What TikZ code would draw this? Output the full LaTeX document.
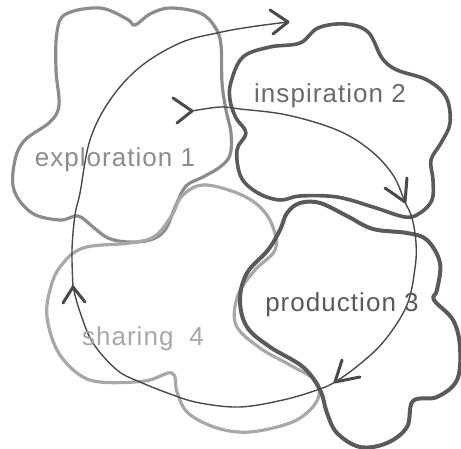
\documentclass[tikz,border=0pt]{standalone}
\usepackage{fontspec}
\newfontfamily\hand[LetterSpace=4]{Liberation Sans}
\definecolor{cloudA}{HTML}{8C8C8C}
\definecolor{cloudB}{HTML}{5A5A5A}
\definecolor{cloudC}{HTML}{A8A8A8}
\definecolor{arrowc}{HTML}{4A4A4A}
\begin{document}
\begin{tikzpicture}[x=1pt,y=-1pt,
  cloud/.style={line width=3.2pt,line join=round},
  flow/.style={draw=arrowc,line width=1.4pt,line cap=round},
  chev/.style={draw=arrowc,line width=3pt,line cap=round,line join=round},
  lbl/.style={font=\hand\fontsize{26}{30}\selectfont,inner sep=0pt}]
\useasboundingbox[fill=white] (0,0) rectangle (461,449);
% clouds
\draw[cloud,cloudA] plot[smooth cycle,tension=0.6] coordinates {(57,32) (66,14) (100,8) (127,19) (135,25) (150,14) (170,8) (200,13) (215,27) (221,45) (222,83) (226,110) (231,133) (230,155) (220,167) (203,177) (186,186) (176,205) (165,230) (150,240) (128,242) (108,238) (93,227) (78,216) (60,220) (32,213) (14,190) (15,160) (25,140) (50,122) (59,105) (56,70)};
\draw[cloud,cloudC] plot[smooth cycle,tension=0.6] coordinates {(50,290) (60,267) (83,248) (130,243) (155,236) (172,215) (182,196) (203,185) (237,193) (260,207) (273,227) (275,250) (255,270) (238,295) (236,325) (260,348) (290,365) (315,380) (319,395) (310,410) (290,423) (250,432) (217,428) (188,413) (177,392) (172,373) (145,381) (100,382) (77,373) (57,350) (47,317)};
\draw[cloud,cloudB,line width=3.6pt] plot[smooth cycle,tension=0.6] coordinates {(231,82) (243,57) (270,47) (300,43) (318,28) (345,24) (368,32) (382,58) (397,70) (427,80) (446,97) (450,123) (441,143) (431,160) (433,180) (432,200) (420,213) (405,217) (373,207) (337,197) (300,196) (280,200) (258,193) (241,177) (237,150) (246,133) (236,118) (230,100)};
\draw[cloud,cloudB,line width=4pt] plot[smooth cycle,tension=0.6] coordinates {(287,213) (300,203) (320,203) (347,216) (373,229) (407,233) (427,240) (440,263) (437,290) (434,300) (453,320) (460,347) (457,380) (437,397) (413,401) (407,427) (387,443) (360,447) (337,433) (327,413) (320,390) (303,367) (270,347) (247,327) (240,300) (247,273) (268,250) (280,230)};
% arrow tips
\coordinate (tipTop) at (288,22);
\coordinate (tipStart) at (192,111);
\coordinate (tipInsp) at (405,202);
\coordinate (tipProd) at (335,382);
\coordinate (tipShare) at (73,287);
% flow lines
\draw[flow] plot[smooth,tension=0.6] coordinates {(tipShare) (72,250) (75,215) (80,193) (90,140) (110,100) (140,67) (180,43) (217,33) (250,27) (tipTop)};
\draw[flow] plot[smooth,tension=0.6] coordinates {(tipStart) (220,107) (240,109) (287,115) (337,130) (370,150) (393,175) (tipInsp) (412,218) (416,243) (415,268) (407,305) (385,340) (360,364) (tipProd) (317,390) (283,400) (240,407) (200,403) (173,395) (140,382) (117,370) (93,343) (80,312) (tipShare)};
% chevrons
\draw[chev] (270,10) -- (tipTop) -- (273,34);
\draw[chev] (173,98) -- (tipStart) -- (177,123);
\draw[chev] (385,188) -- (tipInsp) -- (407,178);
\draw[chev] (342,360) -- (tipProd) -- (360,377);
\draw[chev] (63,303) -- (tipShare) -- (85,302);
% labels
\node[lbl,text=cloudA,anchor=base] (exp) at (115,167) {exploration 1};
\node[lbl,text=cloudB!90,anchor=base] (insp) at (330,103) {inspiration 2};
\node[lbl,text=cloudB,anchor=base] (prod) at (342,312) {production 3};
\node[lbl,text=cloudC,anchor=base] (share) at (143,345) {sharing\hspace{16pt}4};
\end{tikzpicture}
\end{document}
